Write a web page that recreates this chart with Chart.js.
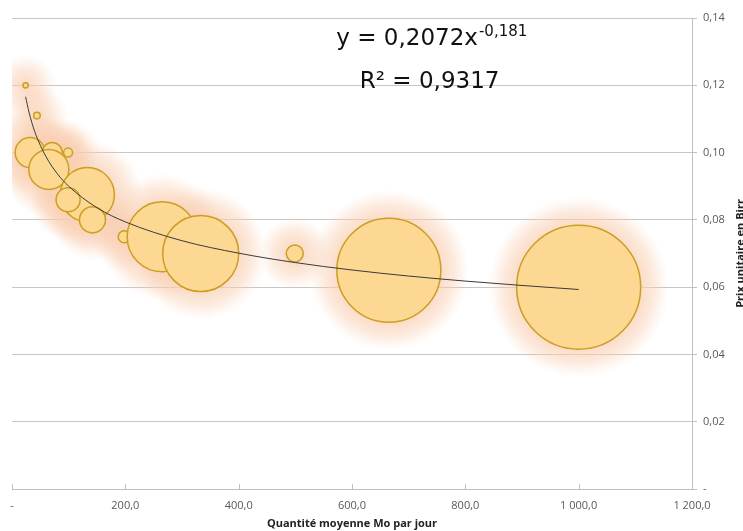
<!DOCTYPE html>
<html lang="fr">
<head>
  <meta charset="UTF-8">
  <title>Prix unitaire vs quantité</title>
  <script src="https://cdn.jsdelivr.net/npm/chart.js"></script>
  <style>
    html, body { margin: 0; padding: 0; background: #fff; }
    #wrap { width: 743px; height: 531px; }
  </style>
</head>
<body>
  <div id="wrap"><canvas id="bubbleChart" width="743" height="531"></canvas></div>

  <script>
    // Données
    const quantite = [24, 44, 32, 71, 99, 65, 133, 99, 142, 198, 265, 333, 499, 665, 1000];
    const prix = [0.120, 0.111, 0.100, 0.100, 0.100, 0.095, 0.0875, 0.086, 0.080, 0.075, 0.075, 0.070, 0.070, 0.065, 0.060];
    const taille = [7, 11, 225, 100, 20, 400, 730, 145, 170, 36, 1225, 1445, 72, 2705, 3845];

    // Courbe de tendance (puissance)
    const tendanceX = [24, 30, 40, 60, 80, 100, 150, 200, 300, 400, 500, 600, 700, 800, 900, 1000];
    const tendanceY = [0.1166, 0.1120, 0.1063, 0.0988, 0.0937, 0.0900, 0.0836, 0.0794, 0.0738, 0.0701, 0.0673, 0.0651, 0.0633, 0.0618, 0.0605, 0.0593];

    const equation = 'y = 0,2072x';
    const exposant = '-0,181';
    const r2 = 'R² = 0,9317';

    const xTicks = [0, 200, 400, 600, 800, 1000, 1200];
    const yTicks = [0, 0.02, 0.04, 0.06, 0.08, 0.10, 0.12, 0.14];

    const rayonMax = 62;
    const tailleMax = Math.max(...taille);

    const bubbles = quantite.map((q, i) => ({
      x: q, y: prix[i], r: rayonMax * Math.sqrt(taille[i] / tailleMax)
    }));
    const trend = tendanceX.map((x, i) => ({ x: x, y: tendanceY[i] }));

    function fmtX(v) {
      if (v === 0) return '-';
      const s = v.toFixed(1).replace('.', ',');
      const [ent, dec] = s.split(',');
      return ent.replace(/\B(?=(\d{3})+(?!\d))/g, ' ') + ',' + dec;
    }
    function fmtY(v) {
      if (Math.abs(v) < 1e-9) return '-';
      return v.toFixed(2).replace('.', ',');
    }

    // halo orangé autour des bulles (dégradé radial)
    const glowPlugin = {
      id: 'glow',
      beforeDatasetsDraw(chart) {
        const meta = chart.getDatasetMeta(1);
        const ctx = chart.ctx;
        const a = chart.chartArea;
        ctx.save();
        ctx.beginPath();
        ctx.rect(a.left, a.top, a.right - a.left, a.bottom - a.top);
        ctx.clip();
        meta.data.forEach(el => {
          const r = el.options.radius;
          const outer = r + 28;
          const g = ctx.createRadialGradient(el.x, el.y, r, el.x, el.y, outer);
          g.addColorStop(0, 'rgba(249,206,176,0.7)');
          g.addColorStop(0.45, 'rgba(249,206,176,0.45)');
          g.addColorStop(0.8, 'rgba(249,206,176,0.15)');
          g.addColorStop(1, 'rgba(249,206,176,0)');
          ctx.fillStyle = g;
          ctx.beginPath();
          ctx.arc(el.x, el.y, outer, 0, Math.PI * 2);
          ctx.fill();
        });
        ctx.restore();
      }
    };

    // équation, titre vertical et graduations de l'axe X
    const textPlugin = {
      id: 'texts',
      afterDraw(chart) {
        const ctx = chart.ctx;
        const xs = chart.scales.x;
        const ys = chart.scales.y;
        const a = chart.chartArea;
        ctx.save();

        // graduations vers l'intérieur
        ctx.strokeStyle = '#c0c0c0';
        ctx.lineWidth = 1;
        xTicks.forEach(v => {
          const px = Math.round(xs.getPixelForValue(v)) + 0.5;
          ctx.beginPath();
          ctx.moveTo(px, a.bottom);
          ctx.lineTo(px, a.bottom - 5);
          ctx.stroke();
        });

        // équation
        ctx.fillStyle = '#111';
        ctx.textBaseline = 'alphabetic';
        ctx.textAlign = 'left';
        const mainFont = '23px "DejaVu Sans"';
        const supFont = '15px "DejaVu Sans"';
        ctx.font = mainFont;
        const w1 = ctx.measureText(equation).width;
        ctx.font = supFont;
        const w2 = ctx.measureText(exposant).width;
        const cx = xs.getPixelForValue(740);
        const y1 = ys.getPixelForValue(0.1320);
        let sx = cx - (w1 + w2) / 2;
        ctx.font = mainFont;
        ctx.fillText(equation, sx, y1);
        ctx.font = supFont;
        ctx.fillText(exposant, sx + w1 + 1, y1 - 9);
        ctx.font = mainFont;
        ctx.textAlign = 'center';
        ctx.fillText(r2, xs.getPixelForValue(737), ys.getPixelForValue(0.1191));

        // titre de l'axe Y (lecture de bas en haut)
        ctx.translate(741, (a.top + a.bottom) / 2);
        ctx.rotate(-Math.PI / 2);
        ctx.font = 'bold 11px "Open Sans"';
        ctx.textAlign = 'center';
        ctx.textBaseline = 'middle';
        ctx.fillStyle = '#222';
        ctx.fillText('Prix unitaire en Birr', 0, 0);
        ctx.restore();
      }
    };

    new Chart(document.getElementById('bubbleChart').getContext('2d'), {
      data: {
        datasets: [
          {
            type: 'line',
            label: 'Tendance',
            data: trend,
            borderColor: '#3a3a3a',
            borderWidth: 1,
            pointRadius: 0,
            fill: false,
            cubicInterpolationMode: 'monotone',
            order: 0
          },
          {
            type: 'bubble',
            label: 'Prix',
            data: bubbles,
            backgroundColor: '#FCD892',
            borderColor: '#CC9E22',
            borderWidth: 1.5,
            order: 1
          }
        ]
      },
      options: {
        responsive: false,
        animation: false,
        events: [],
        layout: { autoPadding: false, padding: { left: 12, top: 18, right: 0, bottom: 0 } },
        plugins: {
          legend: { display: false },
          tooltip: { enabled: false }
        },
        scales: {
          x: {
            type: 'linear',
            min: 0,
            max: 1200,
            afterBuildTicks: s => { s.ticks = xTicks.map(v => ({ value: v })); },
            afterFit: s => { s.height = 42; },
            grid: { display: false, drawTicks: false },
            border: { display: true, color: '#c0c0c0' },
            ticks: {
              padding: 10,
              maxRotation: 0,
              color: '#595959',
              font: { family: 'Open Sans', size: 11 },
              callback: v => fmtX(v)
            },
            title: {
              display: true,
              text: 'Quantité moyenne Mo par jour',
              color: '#222',
              font: { family: 'Open Sans', size: 11, weight: 'bold' },
              padding: { top: 0, bottom: 1 }
            }
          },
          y: {
            type: 'linear',
            position: 'right',
            min: 0,
            max: 0.14,
            afterBuildTicks: s => { s.ticks = yTicks.map(v => ({ value: v })); },
            afterFit: s => { s.width = 51; },
            grid: { color: '#c6c6c6', tickLength: 5, tickColor: '#c0c0c0' },
            border: { display: true, color: '#c0c0c0' },
            ticks: {
              padding: 6,
              color: '#595959',
              font: { family: 'Open Sans', size: 11 },
              callback: v => fmtY(v)
            }
          }
        }
      },
      plugins: [glowPlugin, textPlugin]
    });
  </script>
</body>
</html>
